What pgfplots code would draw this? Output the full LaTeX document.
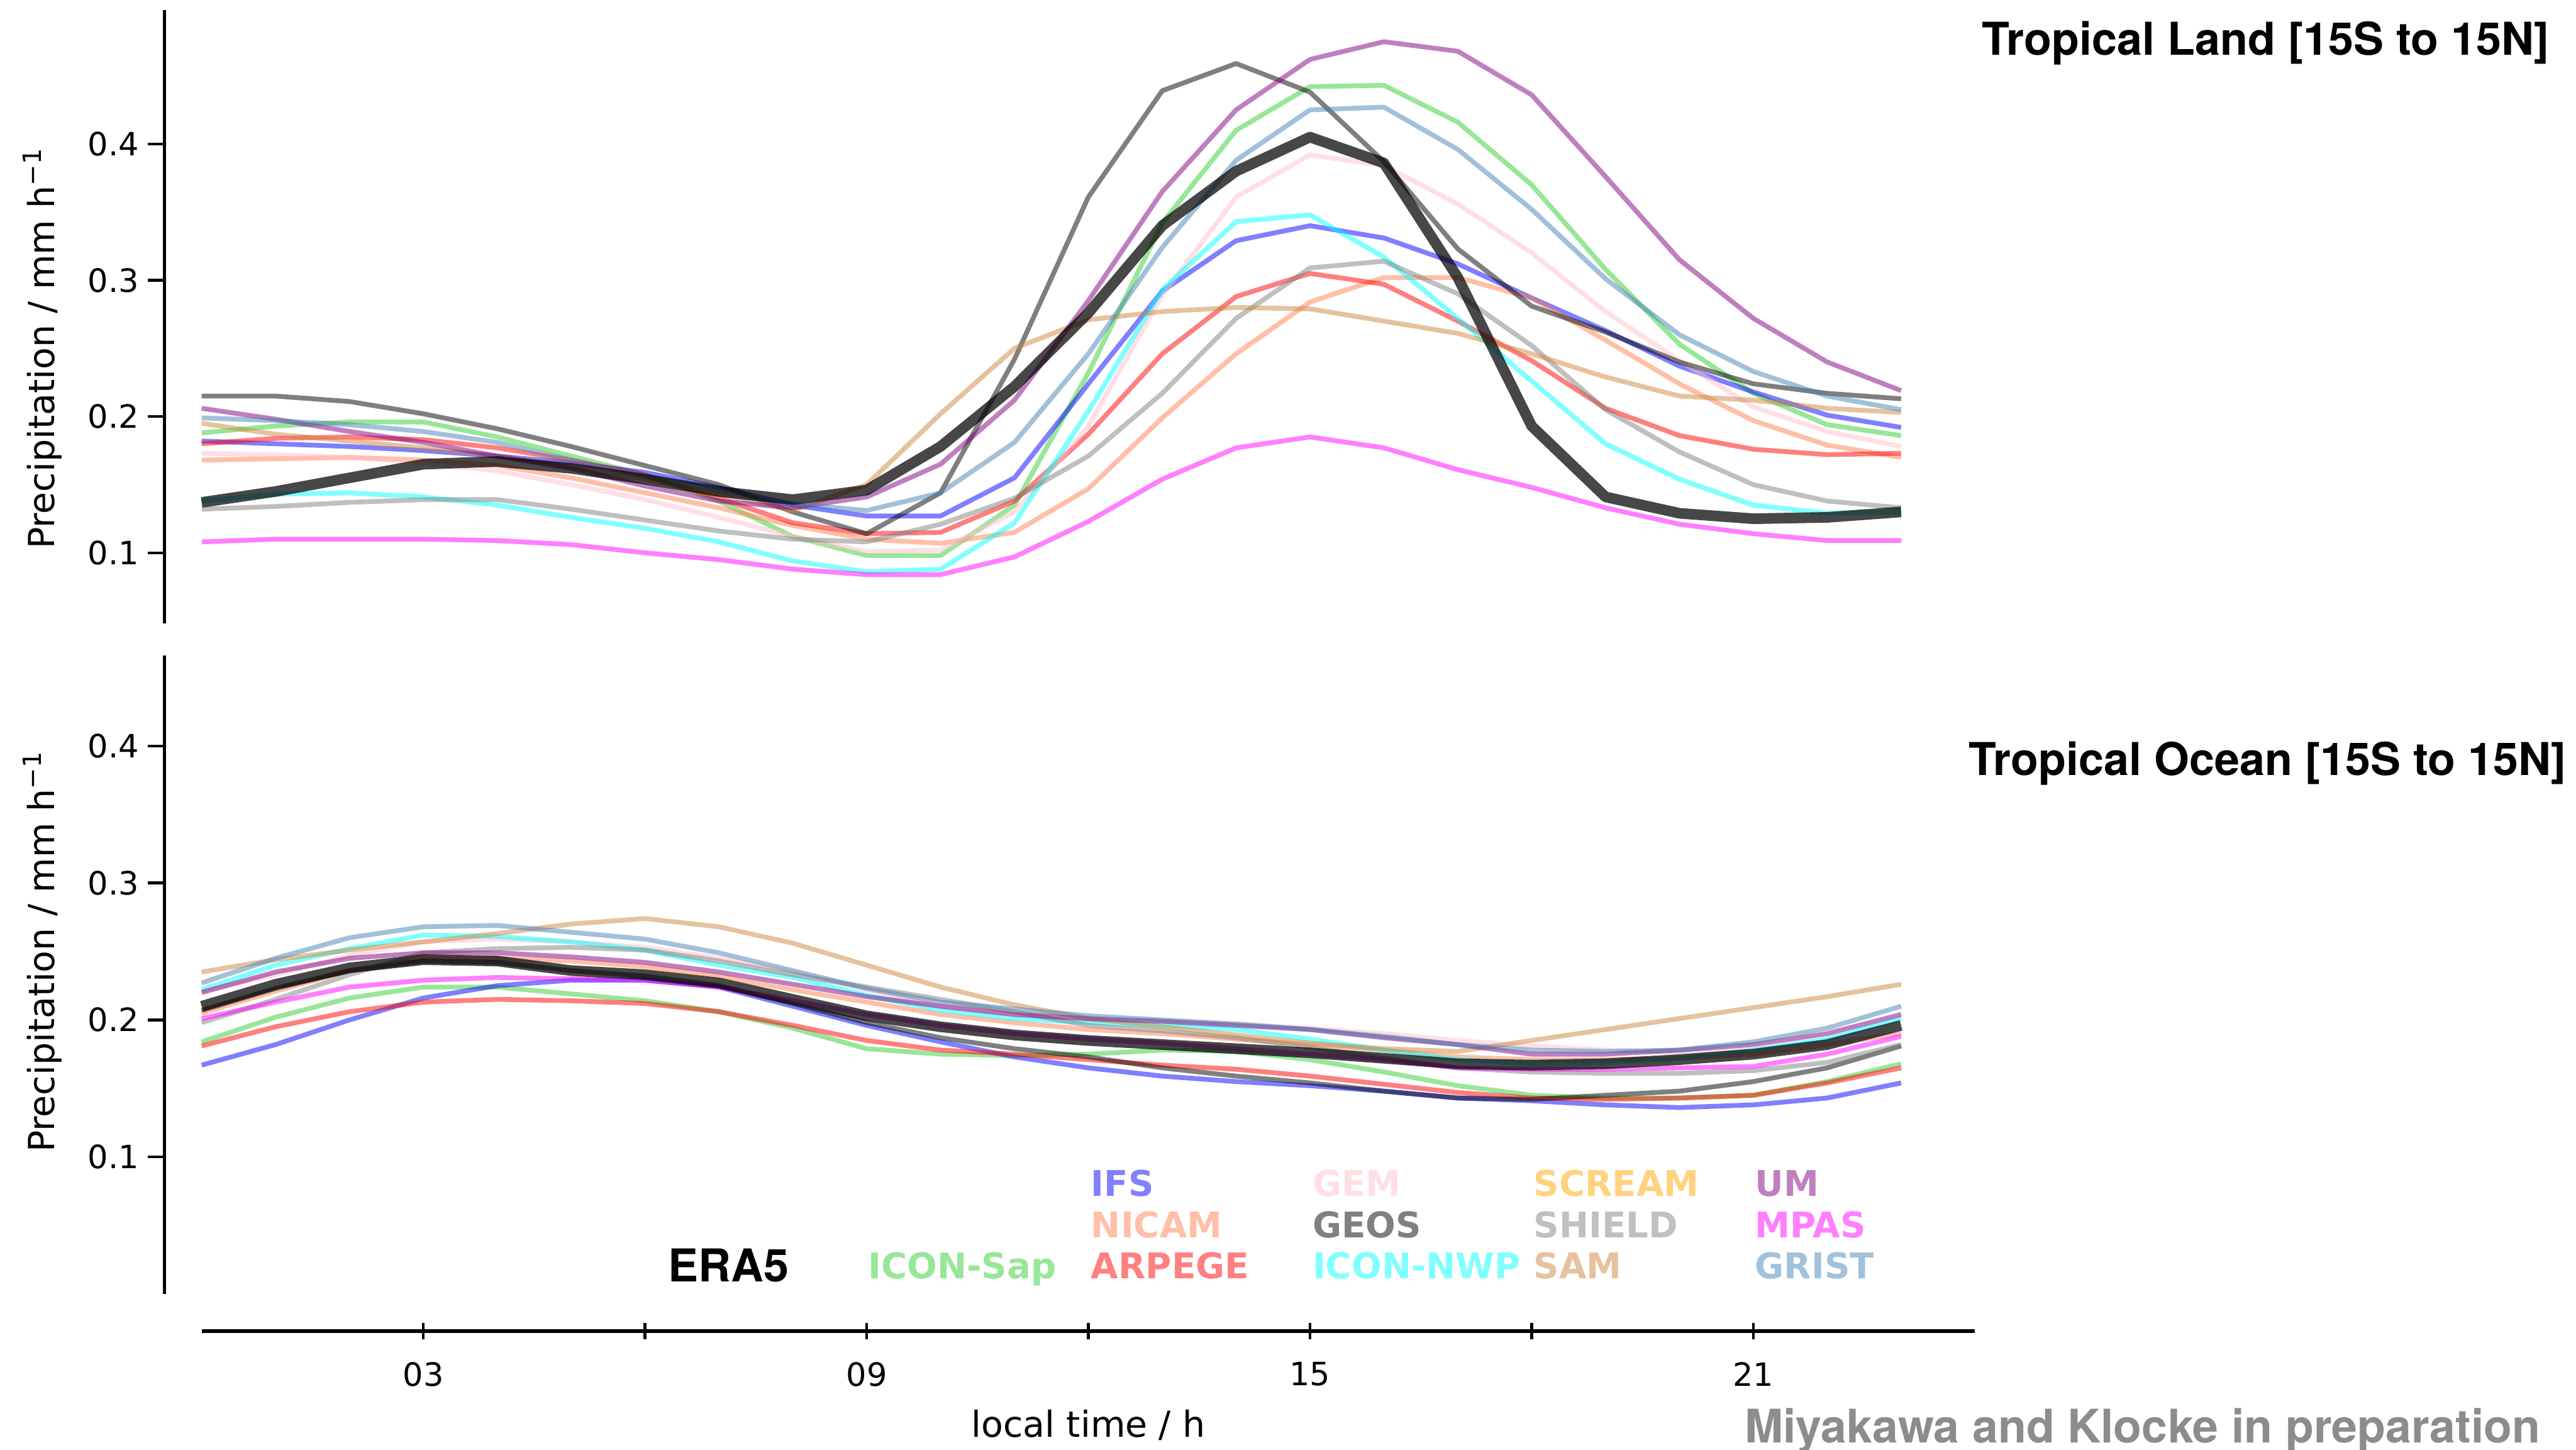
\documentclass[border=0pt]{standalone}
\usepackage{fontspec}
\setmainfont{DejaVu Sans}
\newfontfamily\helv{TeX Gyre Heros}
\usepackage{pgfplots}
\usepackage{pgfplotstable}
\pgfplotsset{compat=1.18}

\definecolor{cSap}{RGB}{50,205,50}
\definecolor{cIFS}{RGB}{0,0,255}
\definecolor{cNICAM}{RGB}{255,127,80}
\definecolor{cARPEGE}{RGB}{255,0,0}
\definecolor{cGEM}{RGB}{255,192,203}
\definecolor{cGEOS}{RGB}{0,0,0}
\definecolor{cNWP}{RGB}{0,255,255}
\definecolor{cSCREAM}{RGB}{255,165,0}
\definecolor{cSHIELD}{RGB}{128,128,128}
\definecolor{cSAM}{RGB}{205,133,63}
\definecolor{cUM}{RGB}{128,0,128}
\definecolor{cMPAS}{RGB}{255,0,255}
\definecolor{cGRIST}{RGB}{70,130,180}

\newcommand\tickfont{\fontsize{12.7}{15}\selectfont}
\newcommand\labfont{\fontsize{14.2}{17}\selectfont}
\newcommand\legfont{\bfseries\fontsize{14}{17}\selectfont}
\newcommand\bigfont{\helv\bfseries\fontsize{17.9}{21}\selectfont}

% columns: h ERA5 ICONSap IFS NICAM ARPEGE GEM GEOS ICONNWP SHIELD SAM UM MPAS GRIST
\pgfplotstableread{
h ERA5 ICONSap IFS NICAM ARPEGE GEM GEOS ICONNWP SHIELD SAM UM MPAS GRIST
0 0.137 0.188 0.182 0.168 0.180 0.173 0.215 0.138 0.132 0.195 0.206 0.108 0.199
1 0.145 0.193 0.180 0.169 0.184 0.172 0.215 0.143 0.134 0.187 0.198 0.110 0.197
2 0.155 0.196 0.178 0.170 0.185 0.170 0.211 0.144 0.137 0.182 0.189 0.110 0.194
3 0.165 0.196 0.175 0.168 0.183 0.166 0.202 0.141 0.139 0.177 0.181 0.110 0.189
4 0.167 0.185 0.171 0.164 0.177 0.160 0.191 0.135 0.139 0.171 0.171 0.109 0.181
5 0.162 0.171 0.166 0.155 0.168 0.150 0.178 0.126 0.132 0.163 0.162 0.106 0.168
6 0.154 0.157 0.159 0.144 0.157 0.139 0.164 0.118 0.124 0.154 0.149 0.100 0.156
7 0.145 0.138 0.148 0.133 0.140 0.126 0.150 0.108 0.116 0.143 0.138 0.095 0.146
8 0.139 0.112 0.135 0.120 0.122 0.112 0.130 0.094 0.110 0.131 0.133 0.088 0.136
9 0.146 0.098 0.127 0.110 0.114 0.101 0.114 0.086 0.108 0.150 0.141 0.084 0.131
10 0.178 0.098 0.127 0.107 0.115 0.102 0.144 0.088 0.121 0.202 0.165 0.084 0.144
11 0.222 0.135 0.155 0.115 0.138 0.130 0.242 0.122 0.140 0.250 0.212 0.097 0.181
12 0.276 0.232 0.224 0.147 0.187 0.193 0.361 0.204 0.171 0.271 0.285 0.123 0.246
13 0.340 0.342 0.292 0.199 0.246 0.289 0.439 0.293 0.217 0.277 0.365 0.154 0.324
14 0.380 0.410 0.329 0.246 0.288 0.361 0.459 0.343 0.272 0.280 0.425 0.177 0.388
15 0.405 0.442 0.340 0.284 0.305 0.392 0.438 0.348 0.309 0.279 0.462 0.185 0.425
16 0.386 0.443 0.331 0.302 0.297 0.384 0.387 0.317 0.314 0.270 0.475 0.177 0.427
17 0.302 0.416 0.312 0.302 0.270 0.356 0.323 0.272 0.290 0.261 0.468 0.161 0.396
18 0.193 0.370 0.287 0.287 0.241 0.320 0.281 0.226 0.252 0.246 0.436 0.148 0.352
19 0.141 0.308 0.263 0.256 0.206 0.277 0.262 0.180 0.205 0.229 0.376 0.133 0.301
20 0.129 0.253 0.237 0.224 0.186 0.241 0.240 0.154 0.174 0.215 0.315 0.121 0.260
21 0.125 0.217 0.218 0.197 0.176 0.207 0.224 0.135 0.150 0.212 0.272 0.114 0.233
22 0.126 0.194 0.201 0.179 0.172 0.189 0.217 0.129 0.138 0.206 0.240 0.109 0.215
23 0.130 0.186 0.192 0.170 0.173 0.178 0.213 0.130 0.133 0.203 0.219 0.109 0.205
}\land

\pgfplotstableread{
h ERA5 ICONSap IFS NICAM ARPEGE GEM GEOS ICONNWP SHIELD SAM UM MPAS GRIST
0 0.210 0.184 0.167 0.205 0.181 0.221 0.207 0.222 0.198 0.235 0.220 0.201 0.227
1 0.226 0.202 0.182 0.221 0.195 0.233 0.223 0.240 0.215 0.244 0.235 0.213 0.245
2 0.238 0.216 0.200 0.236 0.206 0.247 0.236 0.252 0.233 0.251 0.245 0.224 0.260
3 0.244 0.224 0.216 0.245 0.213 0.257 0.243 0.262 0.249 0.257 0.249 0.229 0.268
4 0.243 0.224 0.225 0.245 0.215 0.259 0.242 0.261 0.252 0.263 0.249 0.231 0.269
5 0.236 0.219 0.229 0.243 0.214 0.257 0.236 0.257 0.253 0.270 0.246 0.230 0.264
6 0.233 0.214 0.229 0.239 0.212 0.253 0.232 0.251 0.251 0.274 0.242 0.229 0.259
7 0.227 0.206 0.224 0.232 0.206 0.245 0.225 0.240 0.243 0.268 0.235 0.224 0.249
8 0.215 0.194 0.210 0.222 0.196 0.235 0.212 0.231 0.233 0.256 0.226 0.214 0.236
9 0.203 0.179 0.196 0.213 0.185 0.222 0.198 0.218 0.224 0.240 0.217 0.204 0.223
10 0.195 0.175 0.184 0.204 0.178 0.210 0.187 0.207 0.215 0.224 0.210 0.196 0.213
11 0.189 0.174 0.173 0.198 0.175 0.204 0.179 0.201 0.206 0.211 0.204 0.190 0.208
12 0.185 0.175 0.165 0.193 0.171 0.200 0.173 0.198 0.196 0.201 0.201 0.186 0.203
13 0.182 0.178 0.159 0.190 0.167 0.199 0.165 0.196 0.192 0.195 0.199 0.183 0.200
14 0.179 0.177 0.155 0.186 0.164 0.197 0.159 0.193 0.187 0.189 0.196 0.179 0.197
15 0.176 0.171 0.152 0.182 0.159 0.194 0.154 0.186 0.180 0.183 0.193 0.175 0.193
16 0.172 0.162 0.148 0.178 0.153 0.190 0.148 0.178 0.172 0.179 0.187 0.171 0.188
17 0.168 0.152 0.143 0.173 0.147 0.185 0.143 0.171 0.165 0.177 0.182 0.165 0.182
18 0.167 0.145 0.141 0.171 0.143 0.181 0.142 0.168 0.162 0.185 0.175 0.164 0.178
19 0.168 0.143 0.138 0.171 0.142 0.178 0.145 0.169 0.161 0.193 0.175 0.164 0.177
20 0.171 0.143 0.136 0.172 0.143 0.176 0.148 0.172 0.161 0.201 0.178 0.165 0.178
21 0.175 0.145 0.138 0.175 0.145 0.178 0.155 0.178 0.163 0.209 0.182 0.166 0.184
22 0.182 0.155 0.143 0.182 0.154 0.183 0.165 0.186 0.169 0.217 0.190 0.175 0.194
23 0.196 0.168 0.154 0.190 0.165 0.190 0.181 0.201 0.182 0.226 0.204 0.188 0.210
}\ocean

\pgfplotsset{
  panel/.style={
    scale only axis, width=701.6pt,
    xmin=0, xmax=24, enlargelimits=false, clip=false,
    axis y line=left, axis y line shift=14.8pt,
    axis line style={-, line width=1.3pt, black},
    tick align=outside, major tick length=6.5pt,
    every tick/.style={black, line width=1.1pt},
    ytick={0.1,0.2,0.3,0.4}, yticklabels={0.1,0.2,0.3,0.4},
    yticklabel style={font=\tickfont, anchor=east},
    ylabel={Precipitation / mm h\textsuperscript{\char"2212 1}},
    every axis y label/.style={rotate=90, anchor=base, font=\labfont},
  },
  model/.style={line width=1.9pt, draw opacity=0.5, line join=round, no markers},
  era/.style={black, line width=4.2pt, draw opacity=0.72, line join=round, no markers},
}

\newcommand\allplots[1]{%
  \addplot[cSap, model] table[x=h, y=ICONSap]{#1};
  \addplot[cIFS, model] table[x=h, y=IFS]{#1};
  \addplot[cNICAM, model] table[x=h, y=NICAM]{#1};
  \addplot[cARPEGE, model] table[x=h, y=ARPEGE]{#1};
  \addplot[cGEM, model] table[x=h, y=GEM]{#1};
  \addplot[cGEOS, model] table[x=h, y=GEOS]{#1};
  \addplot[cNWP, model] table[x=h, y=ICONNWP]{#1};
  \addplot[cSHIELD, model] table[x=h, y=SHIELD]{#1};
  \addplot[cSAM, model] table[x=h, y=SAM]{#1};
  \addplot[cUM, model] table[x=h, y=UM]{#1};
  \addplot[cMPAS, model] table[x=h, y=MPAS]{#1};
  \addplot[cGRIST, model] table[x=h, y=GRIST]{#1};
  \addplot[era] table[x=h, y=ERA5]{#1};
}

\begin{document}
\begin{tikzpicture}
\useasboundingbox (0,0) rectangle (1019.2pt,573.3pt);

\begin{axis}[panel, at={(79.8pt,326.6pt)}, anchor=south west,
  height=242.6pt, ymin=0.048, ymax=0.498,
  axis x line=none, xtick=\empty,
  y axis line style={-, line width=1.35pt},
  ylabel style={at={([xshift=-58.2pt]rel axis cs:0,0.449)}}]
\allplots{\land}
\end{axis}

\begin{axis}[panel, at={(79.8pt,61.5pt)}, anchor=south west,
  height=252.5pt, ymin=0, ymax=0.466,
  axis x line=bottom, axis x line shift=14.7pt,
  x axis line style={-, line width=1.45pt},
  every outer x axis line/.append style={-},
  every inner x axis line/.append style={-},
  y axis line style={-, line width=1.35pt},
  xtick={3,6,...,21}, xticklabels={03,,09,,15,,21},
  xticklabel style={font=\tickfont, yshift=-5.5pt},
  xlabel={local time / h},
  xlabel style={at={([yshift=-56.7pt]rel axis cs:0.5,0)}, anchor=base, font=\labfont},
  ylabel style={at={([xshift=-58.2pt]rel axis cs:0,0.5365)}}]
\allplots{\ocean}
\end{axis}

\node[anchor=base east, font=\bigfont] at (1012.1pt,551.4pt) {Tropical Land [15S to 15N]};
\node[anchor=base east, font=\bigfont] at (1018.8pt,266.6pt) {Tropical Ocean [15S to 15N]};

\node[anchor=base west, inner sep=0pt, font=\bigfont] at (264.2pt,66.3pt) {ERA5};
\node[anchor=base west, inner sep=0pt, font=\legfont, text=cSap!50!white] at (343.2pt,67.6pt) {ICON-Sap};
\node[anchor=base west, inner sep=0pt, font=\legfont, text=cIFS!50!white] at (431.5pt,100.1pt) {IFS};
\node[anchor=base west, inner sep=0pt, font=\legfont, text=cNICAM!50!white] at (431.5pt,83.85pt) {NICAM};
\node[anchor=base west, inner sep=0pt, font=\legfont, text=cARPEGE!50!white] at (431.5pt,67.6pt) {ARPEGE};
\node[anchor=base west, inner sep=0pt, font=\legfont, text=cGEM!50!white] at (519.1pt,100.1pt) {GEM};
\node[anchor=base west, inner sep=0pt, font=\legfont, text=cGEOS!50!white] at (519.1pt,83.85pt) {GEOS};
\node[anchor=base west, inner sep=0pt, font=\legfont, text=cNWP!50!white] at (519.1pt,67.6pt) {ICON-NWP};
\node[anchor=base west, inner sep=0pt, font=\legfont, text=cSCREAM!50!white] at (606.6pt,100.1pt) {SCREAM};
\node[anchor=base west, inner sep=0pt, font=\legfont, text=cSHIELD!50!white] at (606.6pt,83.85pt) {SHIELD};
\node[anchor=base west, inner sep=0pt, font=\legfont, text=cSAM!50!white] at (606.6pt,67.6pt) {SAM};
\node[anchor=base west, inner sep=0pt, font=\legfont, text=cUM!50!white] at (694.2pt,100.1pt) {UM};
\node[anchor=base west, inner sep=0pt, font=\legfont, text=cMPAS!50!white] at (694.2pt,83.85pt) {MPAS};
\node[anchor=base west, inner sep=0pt, font=\legfont, text=cGRIST!50!white] at (694.2pt,67.6pt) {GRIST};

\node[anchor=base east, inner sep=0pt, font=\helv\bfseries\fontsize{18.3}{21}\selectfont, text=black!45] at (1005.3pt,2.6pt) {Miyakawa and Klocke in preparation};
\end{tikzpicture}
\end{document}
